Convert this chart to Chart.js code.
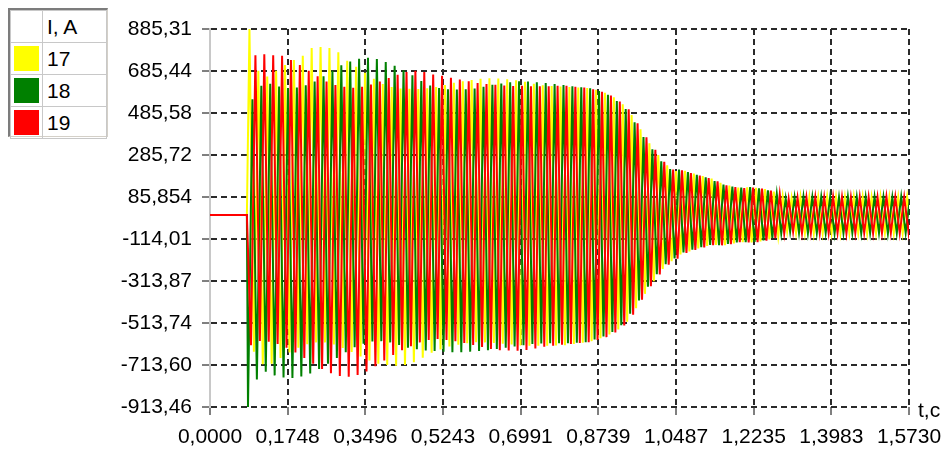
<!DOCTYPE html>
<html>
<head>
<meta charset="utf-8">
<title>I, A</title>
<script src="https://cdn.jsdelivr.net/npm/chart.js@4.4.1/dist/chart.umd.min.js"></script>
<style>
  html, body { margin: 0; padding: 0; background: #ffffff; }
  #wrap { position: relative; width: 945px; height: 454px; overflow: hidden; }
  #plot { position: absolute; left: 0; top: 0; }
  .lg { position: absolute; left: 8px; top: 8px; width: 100px; height: 129px;
        box-sizing: border-box; border-top: 2px solid #7c7c7c; border-left: 2px solid #7c7c7c;
        border-right: 1px solid #d4d0c8; border-bottom: 1px solid #d4d0c8; background: #fff;
        font-family: "Liberation Sans", Arial, sans-serif; font-size: 21px; color: #000; }
  .lg table { border-collapse: collapse; width: 100%; height: 100%; }
  .lg td { border: 1px solid #c8c8c8; padding: 0; height: 31px; }
  .lg td.sw { width: 31px; }
  .lg td.tx { padding-left: 4px; line-height: 21px; }
  .lg .box { width: 25px; height: 25px; margin: 0 auto; }
  #tc { position: absolute; left: 918px; top: 398px; font-family: "Liberation Sans", Arial, sans-serif;
        font-size: 21px; color: #000; }
</style>
</head>
<body>
<div id="wrap">
  <canvas id="plot" width="945" height="454"></canvas>
  <div class="lg">
    <table>
      <tr><td class="sw"></td><td class="tx">I, A</td></tr>
      <tr><td class="sw"><div class="box" style="background:#ffff00"></div></td><td class="tx">17</td></tr>
      <tr><td class="sw"><div class="box" style="background:#008000"></div></td><td class="tx">18</td></tr>
      <tr><td class="sw"><div class="box" style="background:#ff0000"></div></td><td class="tx">19</td></tr>
    </table>
  </div>
  <div id="tc">t,c</div>
</div>
<script>
// Phase currents I, A (phases 17, 18, 19), half-cycle peak values after the fault.
const seriesNames = ['17', '18', '19'];
const seriesColors = ['#ffff00', '#008000', '#ff0000'];

const faultTime = 0.083;       // s, currents are zero before this moment
const halfPeriod = 0.01;       // s, 50 Hz
const firstPeak17 = 0.0888;
const firstPeak18 = 0.0855;
const firstPeak19 = 0.0922;

const peaks17 = [
  885, -651, 687, -710, 659, -707, 687, -680, 714, -654,
  738, -631, 758, -615, 795, -606, 800, -606, 795, -616,
  775, -633, 734, -652, 706, -673, 677, -692, 648, -707,
  624, -714, 609, -717, 602, -713, 601, -700, 600, -679,
  603, -655, 609, -640, 619, -626, 629, -617, 637, -610,
  643, -605, 648, -606, 651, -609, 650, -612, 646, -616,
  641, -621, 634, -622, 625, -622, 618, -622, 614, -621,
  612, -619, 609, -614, 607, -608, 605, -600, 596, -586,
  582, -568, 560, -545, 527, -508, 476, -444, 408, -375,
  342, -315, 285, -257, 237, -220, 209, -188, 210, -173,
  197, -159, 185, -147, 174, -142, 153, -143, 140, -135,
  131, -129, 132, -130, 130, -125, 123, -116, 112, -100,
  89, -77, 81, -84, 87, -86, 86, -88, 85, -86,
  88, -85, 86, -87, 85, -86, 87, -85, 86, -88,
  85, -86, 88, -85, 86, -87, 85, -86, 87, -85
];

const peaks18 = [
  -913, 551, -783, 615, -746, 625, -763, 612, -773, 605,
  -775, 607, -768, 618, -754, 636, -733, 660, -707, 687,
  -680, 713, -653, 731, -629, 744, -612, 748, -602, 742,
  -600, 728, -606, 710, -618, 689, -632, 665, -639, 638,
  -644, 616, -647, 604, -651, 598, -653, 597, -653, 598,
  -650, 602, -647, 611, -643, 620, -637, 626, -631, 632,
  -626, 636, -620, 635, -614, 632, -611, 628, -610, 624,
  -610, 619, -610, 613, -608, 608, -605, 603, -592, 590,
  -578, 572, -557, 543, -524, 504, -470, 441, -406, 371,
  -341, 313, -281, 256, -234, 219, -206, 217, -178, 204,
  -165, 192, -153, 179, -142, 162, -143, 145, -137, 135,
  -130, 131, -129, 133, -128, 127, -121, 118, -109, 101,
  -87, 79, -80, 85, -85, 88, -87, 86, -86, 87,
  -85, 86, -88, 85, -86, 88, -85, 86, -87, 85,
  -86, 87, -85, 86, -88, 85, -86, 88, -85, 86
];

const peaks19 = [
  -620, 760, -599, 765, -603, 760, -614, 758, -631, 738,
  -654, 714, -680, 687, -707, 660, -733, 636, -753, 619,
  -766, 610, -769, 606, -761, 610, -745, 621, -720, 635,
  -692, 652, -666, 668, -643, 681, -624, 686, -606, 681,
  -594, 669, -590, 663, -594, 653, -601, 645, -609, 637,
  -618, 628, -628, 623, -637, 620, -643, 616, -645, 614,
  -646, 615, -642, 613, -635, 613, -627, 613, -622, 615,
  -617, 615, -613, 611, -609, 607, -605, 598, -595, 587,
  -581, 569, -559, 540, -526, 503, -474, 437, -403, 370,
  -339, 310, -283, 253, -236, 217, -208, 213, -180, 200,
  -166, 188, -154, 176, -143, 161, -144, 142, -139, 133,
  -129, 128, -130, 131, -129, 126, -122, 116, -110, 99,
  -88, 78, -79, 83, -86, 85, -85, 86, -87, 85,
  -86, 87, -85, 86, -88, 85, -86, 87, -85, 86,
  -87, 85, -86, 88, -85, 86, -87, 85, -86, 87
];

// Axis ticks
const xTickValues = [0, 0.1748, 0.3496, 0.5243, 0.6991, 0.8739, 1.0487, 1.2235, 1.3983, 1.5730];
const xTickLabels = ['0,0000', '0,1748', '0,3496', '0,5243', '0,6991', '0,8739', '1,0487', '1,2235', '1,3983', '1,5730'];
const yTickValues = [-913.46, -713.60, -513.74, -313.87, -114.01, 85.854, 285.72, 485.58, 685.44, 885.31];
const yTickLabels = ['-913,46', '-713,60', '-513,74', '-313,87', '-114,01', '85,854', '285,72', '485,58', '685,44', '885,31'];

function buildSeries(firstPeak, peaks) {
  const pts = [{ x: 0, y: 0 }, { x: faultTime, y: 0 }];
  peaks.forEach((v, k) => pts.push({ x: firstPeak + k * halfPeriod, y: v }));
  return pts;
}

const tickFont = { family: '"Liberation Sans", Arial, sans-serif', size: 21 };
const gridStyle = { color: '#2a2a2a', lineWidth: 2, drawTicks: true, tickLength: 8, tickColor: '#000', tickWidth: 1 };

new Chart(document.getElementById('plot'), {
  type: 'line',
  data: {
    datasets: [
      { label: seriesNames[2], data: buildSeries(firstPeak19, peaks19), borderColor: seriesColors[2], order: 0 },
      { label: seriesNames[1], data: buildSeries(firstPeak18, peaks18), borderColor: seriesColors[1], order: 1 },
      { label: seriesNames[0], data: buildSeries(firstPeak17, peaks17), borderColor: seriesColors[0], order: 2 }
    ]
  },
  options: {
    responsive: false,
    animation: false,
    parsing: false,
    normalized: true,
    layout: { padding: { top: 29, right: 36, left: 0, bottom: 0 } },
    elements: {
      point: { radius: 0 },
      line: { borderWidth: 2, tension: 0, fill: false, capBezierPoints: false }
    },
    plugins: { legend: { display: false }, tooltip: { enabled: false } },
    scales: {
      x: {
        type: 'linear', min: 0, max: 1.573, z: 1,
        afterBuildTicks: ax => { ax.ticks = xTickValues.map(v => ({ value: v })); },
        afterFit: ax => { ax.height = 47; ax.paddingLeft = 0; ax.paddingRight = 0; },
        ticks: { autoSkip: false, maxRotation: 0, color: '#000', font: tickFont, padding: 10,
                 callback: (v, i) => xTickLabels[i] },
        grid: gridStyle,
        border: { display: false, dash: [6, 4] }
      },
      y: {
        type: 'linear', min: -913.46, max: 885.31, z: 1,
        afterBuildTicks: ax => { ax.ticks = yTickValues.map(v => ({ value: v })); },
        afterFit: ax => { ax.width = 210; ax.paddingTop = 0; ax.paddingBottom = 0; },
        ticks: { autoSkip: false, color: '#000', font: tickFont, padding: 10,
                 callback: (v, i) => yTickLabels[i] },
        grid: gridStyle,
        border: { display: true, color: '#c8c8c8', width: 2, dash: [6, 4] }
      }
    }
  }
});
</script>
</body>
</html>
